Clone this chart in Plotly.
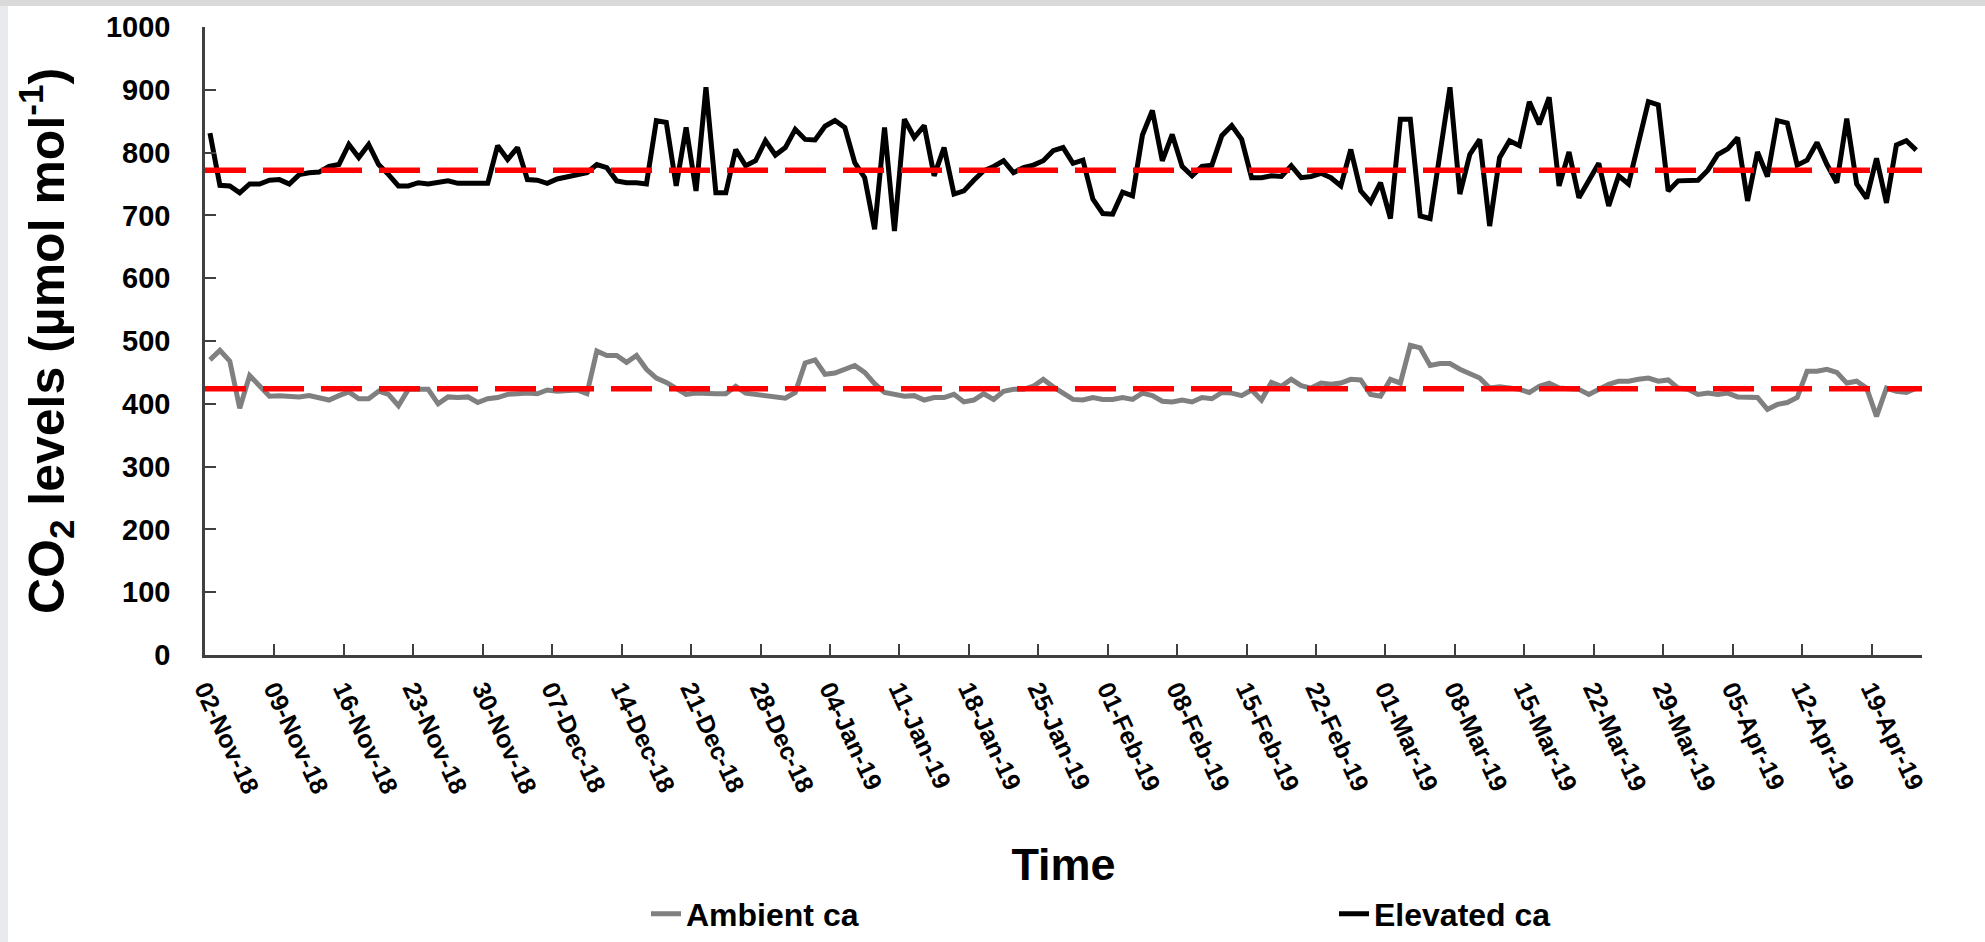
import pandas as pd
import plotly.graph_objects as go

# ---- data -------------------------------------------------------------
start_day = "2018-11-02 12:00"          # first daily reading (plotted mid-day)

elevated_ca = [
    831, 748, 747, 736, 750, 750, 756, 757, 750, 765, 768, 769, 778, 781, 813, 792, 813, 781, 765, 747,
    747, 752, 750, 752, 755, 751, 751, 751, 751, 811, 789, 808, 757, 756, 751, 758, 762, 764, 768, 781,
    776, 755, 752, 752, 750, 851, 848, 747, 840, 739, 904, 736, 736, 805, 779, 787, 819, 796, 808, 837,
    821, 820, 842, 851, 840, 784, 760, 678, 840, 675, 853, 824, 843, 763, 808, 734, 739, 756, 771, 778,
    787, 768, 776, 780, 787, 803, 808, 783, 788, 726, 703, 702, 737, 731, 828, 867, 787, 829, 778, 763,
    778, 780, 827, 843, 821, 760, 760, 763, 762, 779, 760, 762, 767, 760, 747, 805, 739, 721, 752, 695,
    853, 853, 699, 695, 803, 904, 734, 797, 821, 683, 792, 819, 811, 881, 845, 888, 747, 801, 728, 756,
    783, 715, 763, 750, 816, 881, 876, 739, 755, 756, 756, 772, 797, 806, 824, 723, 801, 762, 851, 847,
    780, 788, 816, 781, 752, 854, 750, 727, 791, 720, 812, 819, 804,
]

ambient_ca = [
    470, 485, 468, 393, 445, 428, 412, 413, 411, 411, 413, 410, 406, 413, 419, 408, 408, 420, 415, 397,
    423, 423, 423, 400, 411, 410, 411, 402, 408, 410, 415, 416, 417, 416, 422, 420, 422, 422, 416, 484,
    477, 477, 466, 477, 455, 441, 434, 425, 415, 417, 416, 416, 416, 428, 417, 415, 411, 409, 409, 418,
    465, 470, 447, 449, 454, 461, 450, 432, 418, 415, 412, 413, 406, 410, 410, 415, 403, 406, 416, 407,
    420, 423, 423, 428, 439, 427, 418, 407, 406, 410, 407, 407, 410, 407, 417, 413, 404, 403, 406, 403,
    410, 408, 418, 417, 413, 422, 406, 434, 428, 439, 429, 425, 433, 431, 433, 439, 438, 415, 412, 439,
    433, 493, 489, 461, 464, 464, 455, 448, 441, 425, 427, 425, 423, 418, 428, 433, 425, 424, 423, 415,
    424, 431, 436, 436, 439, 441, 436, 438, 425, 423, 415, 417, 415, 417, 411, 411, 410, 391, 399, 402,
    410, 452, 452, 455, 450, 433, 436, 425, 380, 425, 420, 418, 425,
]

elevated_mean = 772
ambient_mean = 424

tick_dates = [
    "2018-11-02", "2018-11-09", "2018-11-16", "2018-11-23", "2018-11-30", "2018-12-07",
    "2018-12-14", "2018-12-21", "2018-12-28", "2019-01-04", "2019-01-11", "2019-01-18",
    "2019-01-25", "2019-02-01", "2019-02-08", "2019-02-15", "2019-02-22", "2019-03-01",
    "2019-03-08", "2019-03-15", "2019-03-22", "2019-03-29", "2019-04-05", "2019-04-12",
    "2019-04-19",
]
tick_labels = [
    "02-Nov-18", "09-Nov-18", "16-Nov-18", "23-Nov-18", "30-Nov-18", "07-Dec-18",
    "14-Dec-18", "21-Dec-18", "28-Dec-18", "04-Jan-19", "11-Jan-19", "18-Jan-19",
    "25-Jan-19", "01-Feb-19", "08-Feb-19", "15-Feb-19", "22-Feb-19", "01-Mar-19",
    "08-Mar-19", "15-Mar-19", "22-Mar-19", "29-Mar-19", "05-Apr-19", "12-Apr-19",
    "19-Apr-19",
]
x_range = ["2018-11-02 00:00", "2019-04-24 02:00"]
y_ticks = list(range(0, 1001, 100))

dates = pd.date_range(start_day, periods=len(elevated_ca), freq="D")

# ---- figure ------------------------------------------------------------
FONT = "Liberation Sans, Arial, sans-serif"
W, H = 1985, 942
L, R, T, B = 205, 63, 27, 287
PW, PH = W - L - R, H - T - B


def px_x(px):
    return (px - L) / PW


def px_y(py):
    return (H - B - py) / PH


fig = go.Figure()

fig.add_trace(go.Scatter(
    x=dates, y=ambient_ca, mode="lines", name="Ambient ca",
    line=dict(color="#808080", width=5), legend="legend",
))
fig.add_trace(go.Scatter(
    x=dates, y=elevated_ca, mode="lines", name="Elevated ca",
    line=dict(color="#000000", width=5), legend="legend2",
))
for m in (elevated_mean, ambient_mean):
    fig.add_trace(go.Scatter(
        x=x_range, y=[m, m], mode="lines", showlegend=False, hoverinfo="skip",
        line=dict(color="#FF0000", width=5.5, dash="41px,17px"),
    ))

axis_col = "#404040"
fig.update_xaxes(
    type="date", range=x_range, tickvals=tick_dates, ticktext=tick_labels,
    tickangle=65, ticks="inside", ticklen=11, tickwidth=2, tickcolor=axis_col,
    showline=True, linecolor=axis_col, linewidth=2.5, showgrid=False, zeroline=False,
    tickfont=dict(family=FONT, size=25, color="#000000", weight="bold"),
    ticklabelstandoff=7,
    title=dict(text="Time", font=dict(family=FONT, size=45, color="#000000", weight="bold"),
               standoff=52),
    automargin=False,
)
fig.update_yaxes(
    range=[0, 1000], tickvals=y_ticks, ticks="inside", ticklen=11, tickwidth=2,
    tickcolor=axis_col, showline=True, linecolor=axis_col, linewidth=2.5,
    showgrid=False, zeroline=False,
    tickfont=dict(family=FONT, size=29, color="#000000", weight="bold"),
    ticklabelstandoff=26,
    title=dict(text="CO<sub>2</sub> levels (µmol mol<sup>-1</sup>)",
               font=dict(family=FONT, size=50, color="#000000", weight="bold"),
               standoff=26),
    automargin=False,
)

legend_font = dict(family=FONT, size=32, color="#000000", weight="bold")
fig.update_layout(
    width=W, height=H,
    margin=dict(l=L, r=R, t=T, b=B, pad=0, autoexpand=False),
    paper_bgcolor="#FFFFFF", plot_bgcolor="#FFFFFF",
    legend=dict(orientation="h", x=px_x(646), y=px_y(914), xanchor="left", yanchor="middle",
                font=legend_font, bgcolor="rgba(0,0,0,0)"),
    legend2=dict(orientation="h", x=px_x(1334), y=px_y(914), xanchor="left", yanchor="middle",
                 font=legend_font, bgcolor="rgba(0,0,0,0)"),
    shapes=[
        dict(type="rect", xref="paper", yref="paper", layer="above",
             x0=px_x(0), x1=px_x(8), y0=px_y(H), y1=px_y(0),
             fillcolor="#E8EAED", line=dict(width=0)),
        dict(type="rect", xref="paper", yref="paper", layer="above",
             x0=px_x(0), x1=px_x(W), y0=px_y(6), y1=px_y(0),
             fillcolor="#DADADA", line=dict(width=0)),
    ],
    showlegend=True,
)

fig.write_html("out.html")
